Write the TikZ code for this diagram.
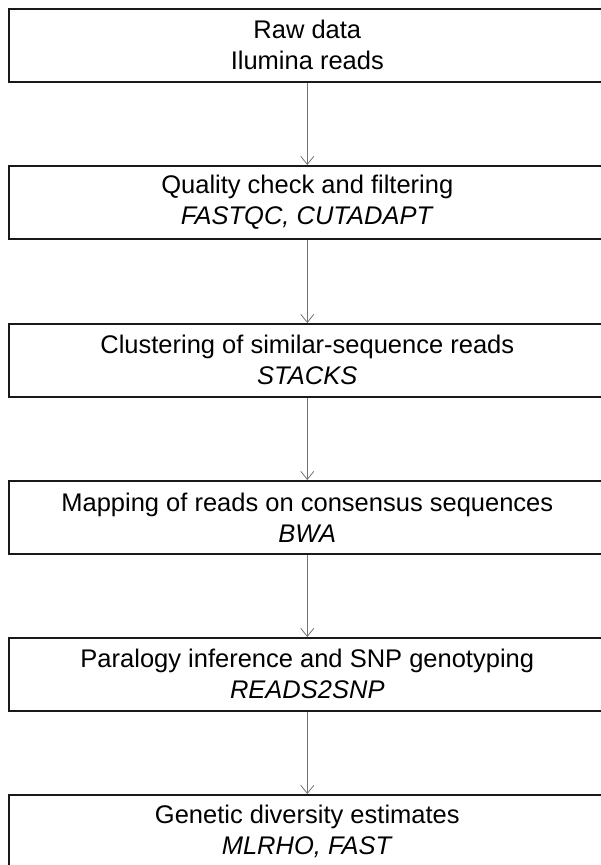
\documentclass[tikz,border=0pt]{standalone}
\usepackage{fontspec}
\setmainfont{Liberation Sans}
\usetikzlibrary{arrows.meta}
\begin{document}
\begin{tikzpicture}[x=1pt,y=-1pt,
  stepbox/.style={draw=black!90, line width=1.6pt, minimum width=597pt, minimum height=73pt,
    inner sep=0pt, align=center, font=\fontsize{25.5}{31}\selectfont, anchor=north west},
  flow/.style={draw=black!55, line width=1pt,
    -{Straight Barb[length=8pt,width=13pt,line width=0.8pt]}}]
\useasboundingbox (0,0) rectangle (601,865);
\clip (0,0) rectangle (601,865);
\node[stepbox] (raw) at (8,8) {Raw data\\Ilumina reads};
\node[stepbox] (qc) at (8,165) {Quality check and filtering\\\textit{FASTQC, CUTADAPT}};
\node[stepbox] (clu) at (8,323) {Clustering of similar-sequence reads\\\textit{STACKS}};
\node[stepbox] (map) at (8,480) {Mapping of reads on consensus sequences\\\textit{BWA}};
\node[stepbox] (par) at (8,637) {Paralogy inference and SNP genotyping\\\textit{READS2SNP}};
\node[stepbox] (gen) at (8,794) {Genetic diversity estimates\\\textit{MLRHO, FAST}};
\draw[flow] (raw) -- (qc);
\draw[flow] (qc) -- (clu);
\draw[flow] (clu) -- (map);
\draw[flow] (map) -- (par);
\draw[flow] (par) -- (gen);
\end{tikzpicture}
\end{document}
